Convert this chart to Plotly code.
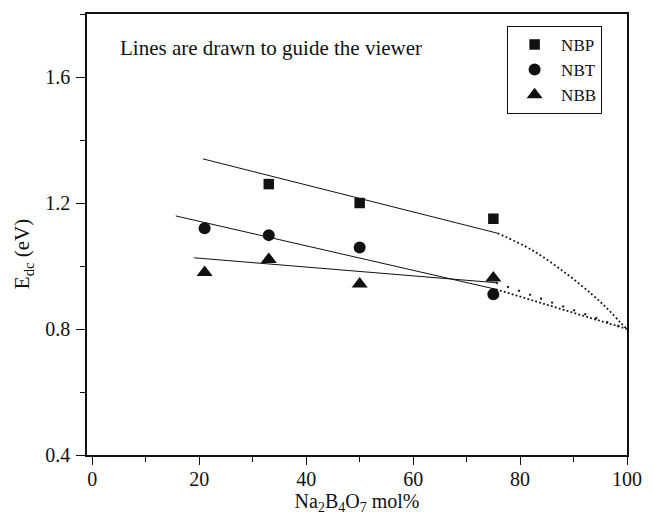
import plotly.graph_objects as go

# Measured data
x_nbp = [33, 50, 75]
y_nbp = [1.26, 1.20, 1.15]
x_nbt = [21, 33, 50, 75]
y_nbt = [1.12, 1.098, 1.059, 0.91]
x_nbb = [21, 33, 50, 75]
y_nbb = [0.979, 1.021, 0.943, 0.962]

# Guide lines (solid part)
gx_nbp = [20.7, 75.8]
gy_nbp = [1.340, 1.104]
gx_nbt = [15.6, 75.5]
gy_nbt = [1.159, 0.926]
gx_nbb = [19.05, 75.5]
gy_nbb = [1.026, 0.947]

# Guide lines (dotted extrapolation)
dx_nbp = [75.8, 82.2, 88.4, 93.3, 96.3, 98.8, 100]
dy_nbp = [1.104, 1.051, 0.979, 0.912, 0.865, 0.820, 0.80]
dx_nbt = [75.5, 100]
dy_nbt = [0.926, 0.80]
dx_nbb = [75.5, 100]
dy_nbb = [0.947, 0.80]

FONT = "Liberation Serif"
INK = "#111111"

fig = go.Figure()

for gx, gy in [(gx_nbp, gy_nbp), (gx_nbt, gy_nbt), (gx_nbb, gy_nbb)]:
    fig.add_trace(go.Scatter(x=gx, y=gy, mode="lines", line=dict(color=INK, width=1),
                             showlegend=False, hoverinfo="skip"))

fig.add_trace(go.Scatter(x=dx_nbp, y=dy_nbp, mode="lines",
                         line=dict(color=INK, width=1.8, dash="1.8px,2.5px", shape="spline", smoothing=1.0),
                         showlegend=False, hoverinfo="skip"))
fig.add_trace(go.Scatter(x=dx_nbt, y=dy_nbt, mode="lines", line=dict(color=INK, width=1.8, dash="1.8px,2.3px"),
                         showlegend=False, hoverinfo="skip"))
fig.add_trace(go.Scatter(x=dx_nbb, y=dy_nbb, mode="lines", line=dict(color=INK, width=2, dash="2px,9.7px"),
                         showlegend=False, hoverinfo="skip"))

fig.add_trace(go.Scatter(x=x_nbp, y=y_nbp, mode="markers", name="NBP",
                         marker=dict(symbol="square", size=10.5, color=INK)))
fig.add_trace(go.Scatter(x=x_nbt, y=y_nbt, mode="markers", name="NBT",
                         marker=dict(symbol="circle", size=12, color=INK)))
fig.add_trace(go.Scatter(x=x_nbb, y=y_nbb, mode="markers", name="NBB",
                         marker=dict(symbol="triangle-up", size=14, color=INK)))

fig.add_annotation(text="Lines are drawn to guide the viewer", xref="paper", yref="paper",
                   x=0.058, y=0.923, xanchor="left", yanchor="middle", showarrow=False,
                   font=dict(family=FONT, size=21, color=INK))

# y-axis title placed as rotated text (reference sits slightly below centre)
fig.add_annotation(text="E<sub>dc</sub> (eV)", xref="paper", yref="paper",
                   x=-0.117, y=0.455, xanchor="center", yanchor="middle", showarrow=False,
                   textangle=-90, font=dict(family=FONT, size=21, color=INK))

fig.update_layout(
    width=654, height=521,
    margin=dict(l=87, r=18, t=14, b=66),
    paper_bgcolor="white", plot_bgcolor="white",
    font=dict(family=FONT, size=20, color=INK),
    showlegend=True,
    legend=dict(x=0.778, y=0.973, xanchor="left", yanchor="top",
                bordercolor=INK, borderwidth=1, bgcolor="white",
                font=dict(family=FONT, size=17, color=INK),
                tracegroupgap=0, itemwidth=43),
    xaxis=dict(range=[-1.0, 100], tickmode="linear", tick0=0, dtick=20,
               ticks="outside", ticklen=8, tickwidth=1.4, tickcolor=INK,
               minor=dict(dtick=10, tick0=0, ticks="outside", ticklen=5, tickwidth=1.4, tickcolor=INK),
               showline=True, linecolor=INK, linewidth=1.6, mirror=True,
               showgrid=False, zeroline=False, ticklabelstandoff=-3,
               tickfont=dict(family=FONT, size=20, color=INK),
               title=dict(text="Na<sub>2</sub>B<sub>4</sub>O<sub>7</sub> mol%",
                          font=dict(family=FONT, size=20, color=INK), standoff=2)),
    yaxis=dict(range=[0.4, 1.8], tickmode="linear", tick0=0.4, dtick=0.4,
               ticks="outside", ticklen=9, tickwidth=1.4, tickcolor=INK,
               minor=dict(dtick=0.2, tick0=0.4, ticks="outside", ticklen=5, tickwidth=1.4, tickcolor=INK),
               tickformat=".1f", ticklabelstandoff=2,
               showline=True, linecolor=INK, linewidth=1.6, mirror=True,
               showgrid=False, zeroline=False,
               tickfont=dict(family=FONT, size=20, color=INK)),
)

fig.write_html("out.html", config={"displayModeBar": False},
               post_script="document.body.style.margin='0';document.body.style.padding='0';")
